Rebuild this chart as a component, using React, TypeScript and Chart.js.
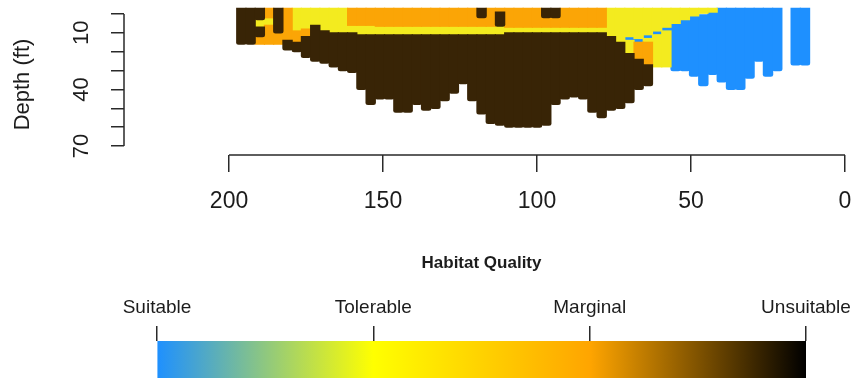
import React, { useEffect, useRef } from 'react';
import { Chart, registerables } from 'chart.js';

Chart.register(...registerables);

// Habitat-quality cells: [distance, top depth (ft), bottom depth (ft)]
const suitableSegments: [number, number, number][] = [
  [70, 12, 14], [67, 13, 15], [64, 11, 13], [61, 9, 11], [58, 7, 9],
  [55, 5, 30], [52, 3, 30], [49, 1, 33], [46, 0, 38], [43, -1, 32],
  [40, -3, 36], [37, -3, 40], [34, -3, 40], [31, -3, 34], [28, -3, 25],
  [25, -3, 33], [22, -3, 30], [16, -3, 27], [13, -3, 27],
];

const tolerableSegments: [number, number, number][] = [
  [190, 3, 7], [187, 2, 6], [178, -3, 9], [175, -3, 8], [172, -3, 6],
  [169, -3, 9], [166, -3, 10], [163, -3, 10], [160, 6, 10], [157, 6, 11],
  [154, 6, 11], [151, 6.5, 11], [148, 6.5, 11], [145, 6.5, 11], [142, 6.5, 11],
  [139, 6.5, 11], [136, 6.5, 11], [133, 6.5, 11], [130, 6.5, 11], [127, 6.5, 11],
  [124, 6.5, 11], [121, 6.5, 11], [118, 6.5, 11], [115, 6.5, 11], [112, 6.5, 11],
  [109, 7, 10], [106, 7, 10], [103, 7, 10], [100, 7, 10], [97, 7, 10],
  [94, 7, 10], [91, 7, 10], [88, 7, 10], [85, 7, 10], [82, 7, 10], [79, 7, 10],
  [76, -3, 12], [73, -3, 15], [70, -3, 12], [70, 14, 21], [67, -3, 13],
  [64, -3, 11], [64, 13, 15], [61, -3, 9], [61, 11, 28], [58, -3, 7],
  [58, 9, 28], [55, -3, 5], [52, -3, 3], [49, -3, 1], [46, -3, 0], [43, -3, -1],
];

const marginalSegments: [number, number, number][] = [
  [190, 12, 16], [187, -3, 2], [187, 6, 16], [184, 10, 16], [181, -3, 14],
  [178, 9, 15], [175, 8, 12], [160, -3, 6], [157, -3, 6], [154, -3, 6],
  [151, -3, 6.5], [148, -3, 6.5], [145, -3, 6.5], [142, -3, 6.5], [139, -3, 6.5],
  [136, -3, 6.5], [133, -3, 6.5], [130, -3, 6.5], [127, -3, 6.5], [124, -3, 6.5],
  [121, -3, 6.5], [118, 2, 6.5], [115, -3, 6.5], [112, -3, -1], [109, -3, 7],
  [106, -3, 7], [103, -3, 7], [100, -3, 7], [97, 2, 7], [94, 2, 7],
  [91, -3, 7], [88, -3, 7], [85, -3, 7], [82, -3, 7], [79, -3, 7],
  [67, 15, 24], [64, 15, 27],
];

const unsuitableSegments: [number, number, number][] = [
  [196, -3, 16], [193, -3, 16], [190, -3, 3], [190, 7, 12], [184, -3, 10],
  [181, 14, 19], [178, 15, 20], [175, 12, 23], [172, 6, 25], [169, 9, 26],
  [166, 10, 28], [163, 10, 30], [160, 10, 31], [157, 11, 40], [154, 11, 48],
  [151, 11, 45], [148, 11, 45], [145, 11, 52], [142, 11, 52], [139, 11, 48],
  [136, 11, 51], [133, 11, 50], [130, 11, 46], [127, 11, 42], [124, 11, 37],
  [121, 11, 46], [118, -3, 2], [118, 11, 53], [115, 11, 58], [112, -1, 6.5],
  [112, 11, 59], [109, 10, 60], [106, 10, 60], [103, 10, 60], [100, 10, 60],
  [97, -3, 2], [97, 10, 59], [94, -3, 2], [94, 10, 48], [91, 10, 45],
  [88, 10, 44], [85, 10, 45], [82, 10, 52], [79, 10, 55], [76, 12, 51],
  [73, 15, 50], [70, 21, 47], [67, 24, 40], [64, 27, 38],
];

const classNames = ['Suitable', 'Tolerable', 'Marginal', 'Unsuitable'];
const classColors = ['#1E90FF', '#F3EB1F', '#FBA506', '#382406'];
const legendStops = ['#1E90FF', '#FFFF00', '#FFA500', '#000000'];
const legendTicks = [0, 1, 2, 3];

const xTicks = [200, 150, 100, 50, 0];
const yTicks = [0, 10, 20, 30, 40, 50, 60, 70];
const yLabelled = [10, 40, 70];

const FONT = "'Liberation Sans', Arial, Helvetica, sans-serif";
const TEXT = '#1c1c1c';
const AXIS = '#2a2a2a';

const toBars = (segs: [number, number, number][]) =>
  segs.map(([d, top, bottom]) => ({ x: d, y: [top, bottom] }));

const axisLines = {
  id: 'axisLines',
  afterDraw(chart: any) {
    const { ctx, chartArea, scales } = chart;
    const x = scales.x;
    const y = scales.y;
    ctx.save();
    ctx.strokeStyle = AXIS;
    ctx.lineWidth = 1.5;
    ctx.beginPath();
    ctx.moveTo(x.getPixelForValue(xTicks[0]), chartArea.bottom);
    ctx.lineTo(x.getPixelForValue(xTicks[xTicks.length - 1]), chartArea.bottom);
    ctx.moveTo(chartArea.left, y.getPixelForValue(yTicks[0]));
    ctx.lineTo(chartArea.left, y.getPixelForValue(yTicks[yTicks.length - 1]));
    ctx.stroke();
    ctx.restore();
  },
};

function mainConfig(): any {
  const sets = [
    { label: classNames[3], segs: unsuitableSegments, color: classColors[3], round: true },
    { label: classNames[2], segs: marginalSegments, color: classColors[2], round: false },
    { label: classNames[1], segs: tolerableSegments, color: classColors[1], round: false },
    { label: classNames[0], segs: suitableSegments, color: classColors[0], round: true },
  ];
  return {
    type: 'bar',
    data: {
      datasets: sets.map((s) => ({
        label: s.label,
        data: toBars(s.segs),
        backgroundColor: s.color,
        borderWidth: 0,
        borderSkipped: false,
        borderRadius: s.round ? { topLeft: 0, topRight: 0, bottomLeft: 2.5, bottomRight: 2.5 } : 0,
        grouped: false,
        clip: false,
        categoryPercentage: 1,
        barPercentage: 1,
        inflateAmount: 0.6,
      })),
    },
    options: {
      animation: false,
      responsive: false,
      events: [],
      layout: { padding: { left: 0, right: 7, top: 14, bottom: 0 } },
      plugins: { legend: { display: false }, tooltip: { enabled: false } },
      scales: {
        x: {
          type: 'linear',
          reverse: true,
          min: 0,
          max: 234.1,
          offset: false,
          afterBuildTicks: (s: any) => {
            s.ticks = xTicks.map((v) => ({ value: v }));
          },
          afterFit: (s: any) => {
            s.height = 60;
            s.paddingLeft = 0;
            s.paddingRight = 0;
          },
          grid: { display: true, offset: false, drawOnChartArea: false, drawTicks: true, tickLength: 17, color: AXIS, lineWidth: 1.5 },
          border: { display: false },
          ticks: {
            autoSkip: false,
            maxRotation: 0,
            padding: 16,
            color: TEXT,
            font: { family: FONT, size: 23 },
            callback: (v: number) => String(v),
          },
        },
        y: {
          type: 'linear',
          reverse: true,
          min: 0,
          max: 74.77,
          afterBuildTicks: (s: any) => {
            s.ticks = yTicks.map((v) => ({ value: v }));
          },
          afterFit: (s: any) => {
            s.width = 124;
            s.paddingTop = 0;
            s.paddingBottom = 0;
          },
          grid: { display: true, drawOnChartArea: false, drawTicks: true, tickLength: 13, color: AXIS, lineWidth: 1.5 },
          border: { display: false },
          title: {
            display: true,
            text: 'Depth (ft)',
            color: TEXT,
            font: { family: FONT, size: 22 },
            padding: { top: 10, bottom: 0 },
          },
          ticks: {
            autoSkip: false,
            minRotation: 90,
            maxRotation: 90,
            crossAlign: 'center',
            padding: 17,
            color: TEXT,
            font: { family: FONT, size: 22 },
            callback: (v: number) => (yLabelled.includes(v) ? String(v) : ''),
          },
        },
      },
    },
    plugins: [axisLines],
  };
}

function legendConfig(): any {
  return {
    type: 'bar',
    data: {
      labels: ['Habitat Quality'],
      datasets: [
        {
          data: [[legendTicks[0], legendTicks[legendTicks.length - 1]]],
          backgroundColor: (c: any) => {
            const ch = c.chart;
            if (!ch.chartArea) return legendStops[0];
            const xs = ch.scales.x;
            const g = ch.ctx.createLinearGradient(
              xs.getPixelForValue(legendTicks[0]), 0,
              xs.getPixelForValue(legendTicks[legendTicks.length - 1]), 0
            );
            legendStops.forEach((col, i) => g.addColorStop(i / (legendStops.length - 1), col));
            return g;
          },
          borderWidth: 0,
          categoryPercentage: 1,
          barPercentage: 1,
        },
      ],
    },
    options: {
      indexAxis: 'y',
      animation: false,
      responsive: false,
      events: [],
      layout: { padding: { left: 157, right: 46, top: 0, bottom: 0 } },
      plugins: { legend: { display: false }, tooltip: { enabled: false } },
      scales: {
        x: {
          type: 'linear',
          position: 'top',
          min: legendTicks[0],
          max: legendTicks[legendTicks.length - 1],
          afterBuildTicks: (s: any) => {
            s.ticks = legendTicks.map((v) => ({ value: v }));
          },
          afterFit: (s: any) => {
            s.height = 126;
            s.paddingLeft = 0;
            s.paddingRight = 0;
          },
          grid: { display: true, drawOnChartArea: false, drawTicks: true, tickLength: 15, color: AXIS, lineWidth: 1.5 },
          border: { display: false },
          title: {
            display: true,
            text: 'Habitat Quality',
            color: TEXT,
            font: { family: FONT, size: 17, weight: 'bold' },
            padding: { top: 38, bottom: 0 },
          },
          ticks: {
            autoSkip: false,
            maxRotation: 0,
            padding: 7,
            color: TEXT,
            font: { family: FONT, size: 19 },
            callback: (_v: number, i: number) => classNames[i],
          },
        },
        y: { display: false },
      },
    },
  };
}

export default function App() {
  const mainRef = useRef<HTMLCanvasElement>(null);
  const legendRef = useRef<HTMLCanvasElement>(null);

  useEffect(() => {
    document.body.style.margin = '0';
    Chart.defaults.font.family = FONT;
    const main = new Chart(mainRef.current as HTMLCanvasElement, mainConfig());
    const legend = new Chart(legendRef.current as HTMLCanvasElement, legendConfig());
    return () => {
      main.destroy();
      legend.destroy();
    };
  }, []);

  return (
    <div style={{ position: 'relative', width: 852, height: 378, background: '#ffffff', overflow: 'hidden' }}>
      <canvas ref={mainRef} width={852} height={215} style={{ position: 'absolute', left: 0, top: 0 }} />
      <canvas ref={legendRef} width={852} height={163} style={{ position: 'absolute', left: 0, top: 215 }} />
    </div>
  );
}
